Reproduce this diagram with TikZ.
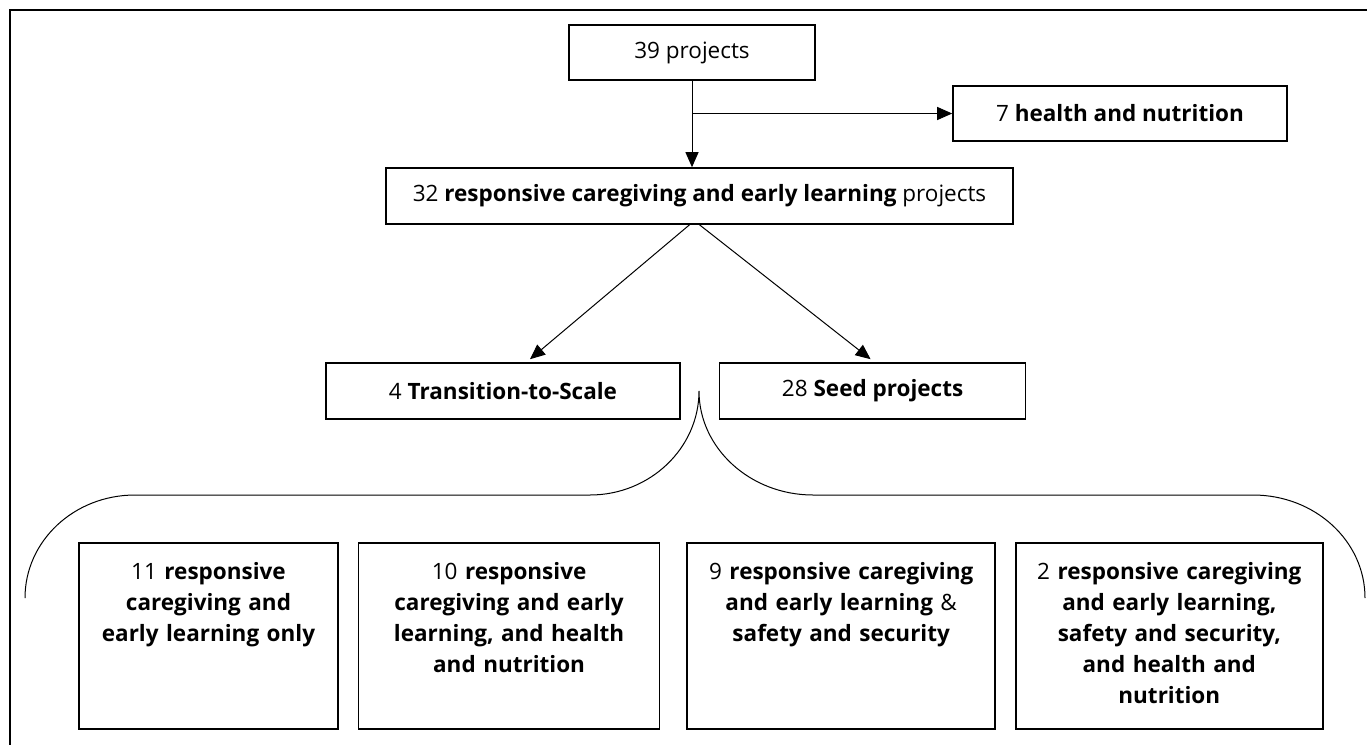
\documentclass[tikz,border=0pt]{standalone}
\usepackage{fontspec}
\setmainfont{Open Sans}
\usepackage{tikz}
\usetikzlibrary{arrows.meta, positioning, calc}
\tikzstyle{box} = [rectangle, draw=black, line width=1.6pt, text centered, inner sep=0pt, minimum height=56pt]
\tikzstyle{leaf} = [rectangle, draw=black, line width=1.6pt, align=center, inner xsep=0pt, inner ysep=14pt, text height=22pt, text depth=136pt]
\tikzstyle{arrow} = [line width=1pt, ->, >={Triangle[length=15pt,width=13pt]}]
\tikzstyle{brace} = [line width=1pt]

\begin{document}
\begin{tikzpicture}[x=1pt, y=-1pt, font=\fontsize{22.5}{31}\selectfont]
\useasboundingbox (0,0) rectangle (1367,744);
\draw [line width=2.6pt] (10,10) rectangle (1380,760);

\node (top) [box, minimum width=246pt, minimum height=55pt] at (692,52.5) {39 projects};
\node (hn) [box, minimum width=334pt, minimum height=55pt] at (1120,113.5) {7 \textbf{health and nutrition}};
\node (rc) [box, minimum width=627pt] at (699.5,196) {32 \textbf{responsive caregiving and early learning} projects};
\node (tts) [box, minimum width=354pt] at (503,391) {4 \textbf{Transition-to-Scale}};
\node (seed) [box, minimum width=306pt, right=38pt of tts] {28 \textbf{Seed projects}};

\node (b1) [leaf, text width=259pt] at (208.5,636) {11 \textbf{responsive}\\\textbf{caregiving and}\\\textbf{early learning only}};
\node (b2) [leaf, text width=301pt, right=19pt of b1] {10 \textbf{responsive}\\\textbf{caregiving and early}\\\textbf{learning, and health}\\\textbf{and nutrition}};
\node (b3) [leaf, text width=308pt, right=26pt of b2] {9 \textbf{responsive caregiving}\\\textbf{and early learning} \&\\\textbf{safety and security}};
\node (b4) [leaf, text width=307pt, right=19pt of b3] {2 \textbf{responsive caregiving}\\\textbf{and early learning,}\\\textbf{safety and security,}\\\textbf{and health and}\\\textbf{nutrition}};

% connectors
\coordinate (split) at (top.south |- hn.west);
\draw [line width=1pt] (top.south) -- (split);
\draw [arrow] (split) -- (split |- rc.north);
\draw [arrow] (split) -- (hn.west);
\draw [arrow] ([xshift=-10pt]rc.south) -- ([xshift=27pt, yshift=3pt]tts.north);
\draw [arrow] ([xshift=0pt]rc.south) -- ([xshift=-2pt, yshift=3pt]seed.north);

% brace over the bottom row
\coordinate (tip) at (699,391);
\draw [brace] (25,598) .. controls (25,541) and (74,495) .. (135,495) -- (590,495)
  .. controls (650,495) and (699,448) .. (tip)
  .. controls (699,448) and (750,495) .. (813,495) -- (1253,495)
  .. controls (1315,495) and (1365,541) .. (1365,598);
\end{tikzpicture}
\end{document}
